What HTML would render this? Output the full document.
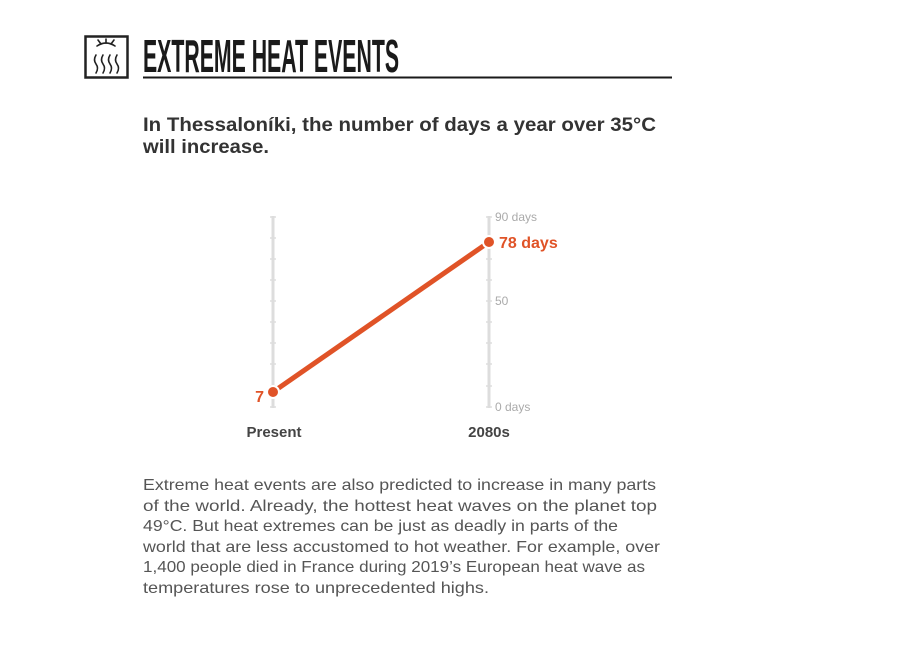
<!DOCTYPE html>
<html><head><meta charset="utf-8"><style>
html,body{margin:0;padding:0;background:#fff;}
svg{display:block;}
</style></head><body>
<svg width="924" height="648" viewBox="0 0 924 648" xmlns="http://www.w3.org/2000/svg" font-family="Liberation Sans, sans-serif">
<rect x="85.5" y="36.5" width="42" height="41" fill="none" stroke="#222" stroke-width="2.5"/>
<g fill="none" stroke="#222" stroke-width="1.6" stroke-linecap="round">
<path d="M97 46 Q106 40 115 46"/>
<line x1="106" y1="43" x2="106" y2="39"/><line x1="101" y1="44" x2="98" y2="40"/><line x1="111" y1="44" x2="114" y2="40"/>
<path d="M96 55 q-3 5 0 9 q3 4 0 9"/>
<path d="M103 55 q-3 5 0 9 q3 4 0 9"/>
<path d="M110 55 q-3 5 0 9 q3 4 0 9"/>
<path d="M117 55 q-3 5 0 9 q3 4 0 9"/>
</g>
<text x="143" y="72" font-family="Liberation Sans Narrow, Liberation Sans, sans-serif" font-weight="bold" font-size="46" fill="#1a1a1a" textLength="256" lengthAdjust="spacingAndGlyphs">EXTREME HEAT EVENTS</text>
<line x1="143" y1="77.5" x2="672" y2="77.5" stroke="#1a1a1a" stroke-width="2"/>
<g font-weight="bold" font-size="19" fill="#333">
<text x="143" y="131" textLength="513" lengthAdjust="spacingAndGlyphs">In Thessaloníki, the number of days a year over 35°C</text>
<text x="143" y="153" textLength="126" lengthAdjust="spacingAndGlyphs">will increase.</text>
</g>
<g stroke="#ddd" stroke-width="3">
<line x1="273" y1="216" x2="273" y2="408"/>
<line x1="489" y1="216" x2="489" y2="408"/>
</g>
<g stroke="#ddd" stroke-width="1.5">
<path d="M270 217h6M270 238h6M270 259h6M270 280h6M270 301h6M270 322h6M270 343h6M270 364h6M270 386h6M270 407h6"/>
<path d="M486 217h6M486 238h6M486 259h6M486 280h6M486 301h6M486 322h6M486 343h6M486 364h6M486 386h6M486 407h6"/>
</g>
<g font-size="12" fill="#aaa">
<text x="495" y="221">90 days</text>
<text x="495" y="305">50</text>
<text x="495" y="411">0 days</text>
</g>
<line x1="273" y1="392" x2="489" y2="242" stroke="#e05327" stroke-width="5"/>
<circle cx="273" cy="392" r="6" fill="#e05327" stroke="#fff" stroke-width="2"/>
<circle cx="489" cy="242" r="6" fill="#e05327" stroke="#fff" stroke-width="2"/>
<text x="264" y="402" font-size="16" font-weight="bold" fill="#e05327" text-anchor="end">7</text>
<text x="499" y="248" font-size="16" font-weight="bold" fill="#e05327">78 days</text>
<g font-size="15" font-weight="bold" fill="#444" text-anchor="middle">
<text x="274" y="437">Present</text>
<text x="489" y="437">2080s</text>
</g>
<g font-size="16" fill="#555">
<text x="143" y="490" textLength="513" lengthAdjust="spacingAndGlyphs">Extreme heat events are also predicted to increase in many parts</text>
<text x="143" y="511" textLength="514" lengthAdjust="spacingAndGlyphs">of the world. Already, the hottest heat waves on the planet top</text>
<text x="143" y="531" textLength="475" lengthAdjust="spacingAndGlyphs">49°C. But heat extremes can be just as deadly in parts of the</text>
<text x="143" y="552" textLength="517" lengthAdjust="spacingAndGlyphs">world that are less accustomed to hot weather. For example, over</text>
<text x="143" y="572" textLength="502" lengthAdjust="spacingAndGlyphs">1,400 people died in France during 2019’s European heat wave as</text>
<text x="143" y="593" textLength="346" lengthAdjust="spacingAndGlyphs">temperatures rose to unprecedented highs.</text>
</g>
</svg>
</body></html>
